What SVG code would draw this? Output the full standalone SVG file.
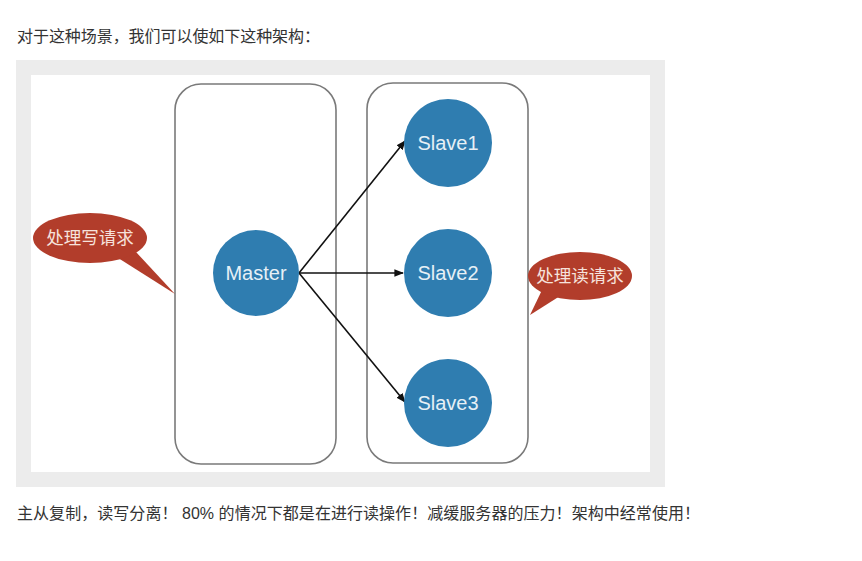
<svg xmlns="http://www.w3.org/2000/svg" width="862" height="561" viewBox="0 0 862 561">
<defs>
<style>
.cap{font-family:"Liberation Sans","Noto Sans CJK SC",sans-serif;font-size:16px;fill:#333}
.box{fill:none;stroke:#7a7a7a;stroke-width:1.6}
.node circle{fill:#2f7db0}
.node text{font-family:"Liberation Sans",Arial,sans-serif;font-size:20px;fill:#e6f0f6;text-anchor:middle}
.bub path,.bub ellipse{fill:#b23d2b}
.bub text{font-family:"Noto Sans CJK SC",sans-serif;font-size:17.5px;fill:#f6e2dc;text-anchor:middle}
.edge{stroke:#111;stroke-width:1.6;fill:none;marker-end:url(#ah)}
</style>
<marker id="ah" viewBox="0 0 10 10" refX="9" refY="5" markerWidth="6" markerHeight="6" orient="auto" markerUnits="strokeWidth">
<path d="M0,1 L10,5 L0,9 Z" fill="#111"/>
</marker>
</defs>
<rect width="862" height="561" fill="#fff"/>
<text class="cap" x="17" y="42" textLength="303" lengthAdjust="spacing">对于这种场景，我们可以使如下这种架构：</text>
<rect x="16" y="60" width="649" height="427" fill="#ececec"/>
<rect x="31" y="75" width="619" height="397" fill="#fff"/>
<rect class="box" x="175" y="84" width="161" height="380" rx="26"/>
<rect class="box" x="367" y="83" width="161" height="380" rx="26"/>
<g id="bubble-write" class="bub">
<path d="M115,256 L175,294 L136,252 Z"/>
<ellipse cx="90" cy="238" rx="57" ry="25"/>
<text x="90" y="244">处理写请求</text>
</g>
<g id="bubble-read" class="bub">
<path d="M542,290 L530,315 L560,296 Z"/>
<ellipse cx="580" cy="276" rx="52" ry="24"/>
<text x="580" y="282">处理读请求</text>
</g>
<g id="edges">
<path class="edge" d="M299,273 L405,141"/>
<path class="edge" d="M299,273 L403,273"/>
<path class="edge" d="M299,273 L405,402"/>
</g>
<g id="master" class="node"><circle cx="256" cy="273" r="43"/><text x="256" y="280">Master</text></g>
<g id="slave1" class="node"><circle cx="448" cy="143" r="44"/><text x="448" y="150">Slave1</text></g>
<g id="slave2" class="node"><circle cx="448" cy="273" r="44"/><text x="448" y="280">Slave2</text></g>
<g id="slave3" class="node"><circle cx="448" cy="403" r="44"/><text x="448" y="410">Slave3</text></g>
<text class="cap" x="17" y="519" textLength="683" lengthAdjust="spacing">主从复制，读写分离！ 80% 的情况下都是在进行读操作！减缓服务器的压力！架构中经常使用！</text>
</svg>
